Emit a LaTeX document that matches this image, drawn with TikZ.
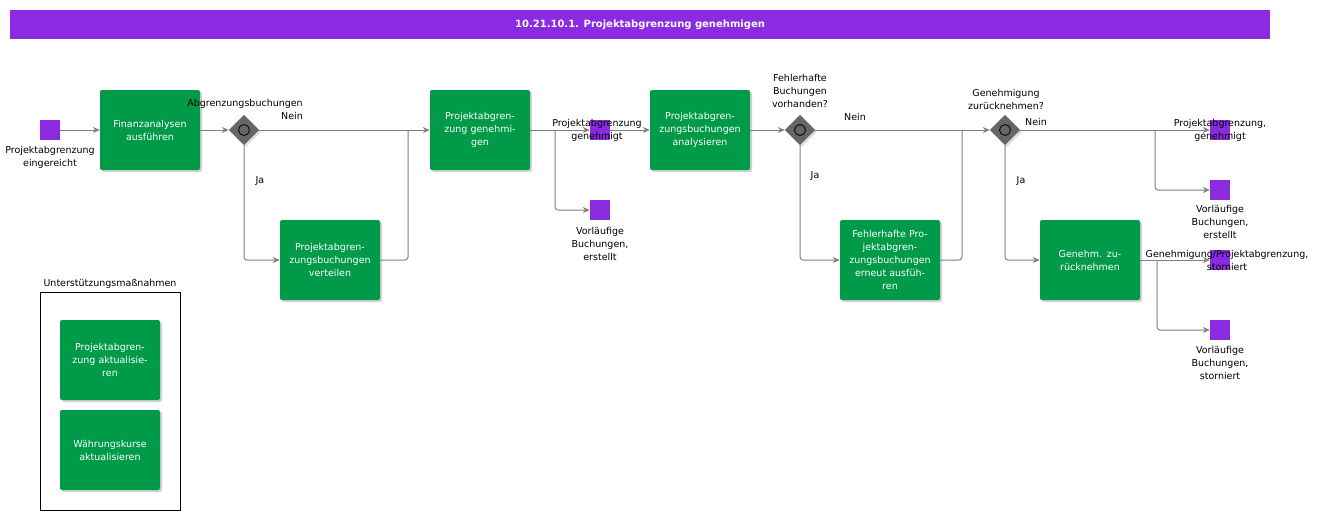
\documentclass[tikz,border=0pt]{standalone}
\usepackage{fontspec}
\setmainfont{DejaVu Sans}
\usetikzlibrary{shapes.geometric,shadows,arrows.meta}
\definecolor{pur}{HTML}{8A2BE2}
\definecolor{grn}{HTML}{009A49}
\definecolor{ln}{HTML}{808080}
\begin{document}
\begin{tikzpicture}[x=1pt,y=-1pt,
 task/.style={rectangle,rounded corners=2pt,fill=grn,minimum width=100pt,minimum height=80pt,inner sep=2pt,text width=96pt,align=center,text=white,font=\fontsize{9.5}{13}\selectfont,drop shadow={shadow xshift=2pt,shadow yshift=-2pt,fill=gray!70}},
 ev/.style={rectangle,fill=pur,minimum size=20pt,inner sep=0},
 gw/.style={diamond,fill=gray!80!black,draw=gray,minimum size=30pt,inner sep=0,drop shadow={shadow xshift=2pt,shadow yshift=-2pt,fill=gray!50}},
 lab/.style={font=\fontsize{9.5}{13}\selectfont,align=center,inner sep=0},
 con/.style={draw=ln,line width=1pt,-{Stealth[length=7pt,width=6pt]},rounded corners=3pt},
 ln/.style={draw=ln,line width=1pt,rounded corners=3pt}]
\useasboundingbox (0,0) rectangle (1329,520);
\node[fill=pur,minimum width=1260pt,minimum height=29pt,inner sep=0,text=white,font=\bfseries\fontsize{10}{12}\selectfont] (title) at (640,24.5) {10.21.10.1. Projektabgrenzung genehmigen};
% start
\node[ev] (s) at (50,130) {};
\node[lab] (sl) at (50,157) {Projektabgrenzung\\eingereicht};
\node[task] (t1) at (150,130) {Finanzanalysen ausführen};
\node[gw] (g1) at (244,130) {};
\draw[thick] (g1.center) circle (5.5pt);
\node[lab] (g1l) at (245,104) {Abgrenzungsbuchungen};
\node[lab] (n1) at (292,116) {Nein};
\node[lab] (j1) at (260,181) {Ja};
\node[task] (t2) at (330,260) {Projektabgren-\\zungsbuchungen\\verteilen};
\node[task] (t3) at (480,130) {Projektabgren-\\zung genehmi-\\gen};
\node[ev] (e1) at (600,130) {};
\node[lab] (e1l) at (597,130) {Projektabgrenzung\\genehmigt};
\node[ev] (e2) at (600,210) {};
\node[lab] (e2l) at (600,244) {Vorläufige\\Buchungen,\\erstellt};
\node[task] (t4) at (700,130) {Projektabgren-\\zungsbuchungen\\analysieren};
\node[gw] (g2) at (800,130) {};
\draw[thick] (g2.center) circle (5.5pt);
\node[lab] (g2l) at (800,91) {Fehlerhafte\\Buchungen\\vorhanden?};
\node[lab] (n2) at (855,117) {Nein};
\node[lab] (j2) at (815,176) {Ja};
\node[task] (t5) at (890,260) {Fehlerhafte Pro-\\jektabgren-\\zungsbuchungen\\erneut ausfüh-\\ren};
\node[gw] (g3) at (1005,130) {};
\draw[thick] (g3.center) circle (5.5pt);
\node[lab] (g3l) at (1006,99) {Genehmigung\\zurücknehmen?};
\node[lab] (n3) at (1036,122) {Nein};
\node[lab] (j3) at (1021,181) {Ja};
\node[task] (t6) at (1090,260) {Genehm. zu-\\rücknehmen};
\node[ev] (r1) at (1220,130) {};
\node[lab] (r1l) at (1220,130) {Projektabgrenzung,\\genehmigt};
\node[ev] (r2) at (1220,190) {};
\node[lab] (r2l) at (1220,222) {Vorläufige\\Buchungen,\\erstellt};
\node[ev] (r3) at (1220,260) {};
\node[lab] (r3l) at (1227,260) {Genehmigung/Projektabgrenzung,\\storniert};
\node[ev] (r4) at (1220,330) {};
\node[lab] (r4l) at (1220,363) {Vorläufige\\Buchungen,\\storniert};
% support
\node[draw,minimum width=140pt,minimum height=218pt,inner sep=0] (box) at (110,401) {};
\node[lab] (boxl) at (110,284) {Unterstützungsmaßnahmen};
\node[task] (u1) at (110,360) {Projektabgren-\\zung aktualisie-\\ren};
\node[task] (u2) at (110,450) {Währungskurse\\aktualisieren};
% connectors
\draw[con] (s) -- (t1);
\draw[con] (t1) -- (g1);
\draw[con] (g1) -- (t3);
\draw[con] (g1) |- (t2);
\draw[ln] (t2.east) -| (408,130);
\draw[con] (t3.east) -- (e1);
\draw[con] (555,130) |- (e2);
\draw[con] (e1) -- (t4);
\draw[con] (t4) -- (g2);
\draw[con] (g2) -- (g3);
\draw[con] (g2) |- (t5);
\draw[ln] (t5.east) -| (962,130);
\draw[con] (g3) -- (r1);
\draw[con] (1155,130) |- (r2);
\draw[con] (g3) |- (t6);
\draw[con] (t6) -- (r3);
\draw[con] (1157,260) |- (r4);
\end{tikzpicture}
\end{document}
